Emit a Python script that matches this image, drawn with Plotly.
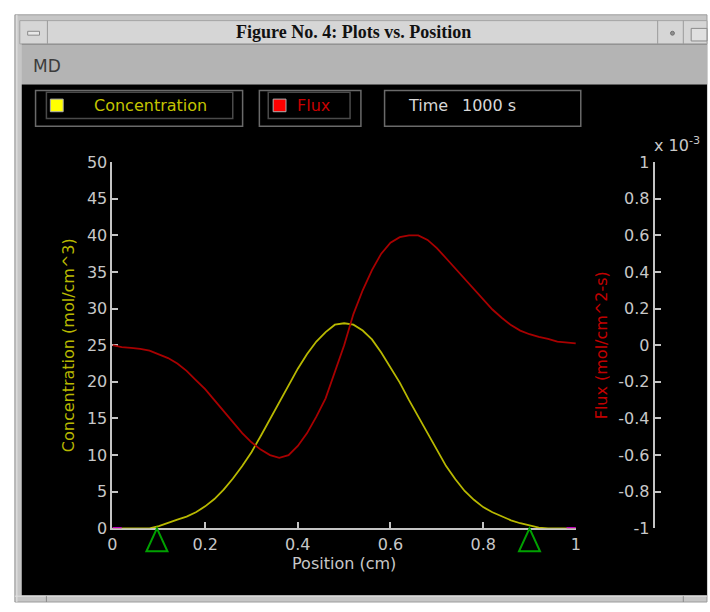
import plotly.graph_objects as go

# ---------------- data ----------------
position = [0.00, 0.02, 0.04, 0.06, 0.08, 0.10, 0.12, 0.14, 0.16, 0.18,
            0.20, 0.22, 0.24, 0.26, 0.28, 0.30, 0.32, 0.34, 0.36, 0.38,
            0.40, 0.42, 0.44, 0.46, 0.48, 0.50, 0.52, 0.54, 0.56, 0.58,
            0.60, 0.62, 0.64, 0.66, 0.68, 0.70, 0.72, 0.74, 0.76, 0.78,
            0.80, 0.82, 0.84, 0.86, 0.88, 0.90, 0.92, 0.94, 0.96, 0.98, 1.00]

concentration = [0, 0, 0, 0, 0, 0.3, 0.8, 1.2, 1.6, 2.2,
                 3.0, 4.0, 5.3, 6.8, 8.5, 10.4, 12.6, 14.9, 17.2, 19.6,
                 21.8, 23.8, 25.5, 26.8, 27.8, 28.0, 27.8, 27.0, 25.8, 24.0,
                 22.0, 19.9, 17.5, 15.2, 12.9, 10.6, 8.5, 6.7, 5.1, 3.9,
                 2.9, 2.2, 1.6, 1.1, 0.7, 0.4, 0.1, 0, 0, 0, 0]

# flux in units of 1e-3 mol/cm^2-s
flux_e3 = [0.00, -0.01, -0.015, -0.02, -0.03, -0.05, -0.07, -0.10, -0.14, -0.19,
           -0.24, -0.30, -0.36, -0.42, -0.48, -0.53, -0.57, -0.60, -0.615, -0.60,
           -0.55, -0.48, -0.39, -0.29, -0.15, 0.00, 0.17, 0.30, 0.41, 0.50,
           0.56, 0.59, 0.60, 0.60, 0.575, 0.53, 0.475, 0.42, 0.36, 0.305,
           0.25, 0.195, 0.15, 0.11, 0.08, 0.06, 0.045, 0.035, 0.02, 0.015, 0.01]

boundary_x = [0.0, 0.02, None, 0.98, 1.0]
boundary_y = [0, 0, None, 0, 0]
sensor_positions = [0.096, 0.90]

x_tickvals = [0, 0.2, 0.4, 0.6, 0.8, 1]
x_ticktext = ["0", "0.2", "0.4", "0.6", "0.8", "1"]
y_tickvals = [0, 5, 10, 15, 20, 25, 30, 35, 40, 45, 50]
y2_tickvals = [-1, -0.8, -0.6, -0.4, -0.2, 0, 0.2, 0.4, 0.6, 0.8, 1]
y2_ticktext = ["-1", "-0.8", "-0.6", "-0.4", "-0.2", "0", "0.2", "0.4", "0.6", "0.8", "1"]

title_text = "Figure No. 4: Plots vs. Position"
time_label = "1000 s"

# ---------------- helpers ----------------
W, H = 710, 612
def px(x):
    return x / W
def py(y):
    return 1 - y / H

AX = "#c4c4c4"
FONT = "DejaVu Sans"
YELLOW = "#b8b800"
RED = "#a80000"

shapes = []
def rect(x0, y0, x1, y1, fill=None, line=None, lw=1):
    shapes.append(dict(type="rect", xref="paper", yref="paper",
                       x0=px(x0), x1=px(x1), y0=py(y1), y1=py(y0),
                       fillcolor=fill if fill else "rgba(0,0,0,0)",
                       line=dict(color=line if line else "rgba(0,0,0,0)", width=lw if line else 0),
                       layer="below"))
def hline(x0, x1, y, color, lw=1):
    shapes.append(dict(type="line", xref="paper", yref="paper",
                       x0=px(x0), x1=px(x1), y0=py(y), y1=py(y),
                       line=dict(color=color, width=lw), layer="below"))
def vline(x, y0, y1, color, lw=1):
    shapes.append(dict(type="line", xref="paper", yref="paper",
                       x0=px(x), x1=px(x), y0=py(y0), y1=py(y1),
                       line=dict(color=color, width=lw), layer="below"))

# window chrome
rect(10, 6, 712, 612, fill="#c6c6c6", line="#9c9c9c")
vline(12, 6, 612, "#e6e6e6", 1)
rect(15, 12, 712, 36, fill="#d6d6d6", line="#a4a4a4")
vline(43, 12, 36, "#9a9a9a", 1)
rect(23, 23, 35, 27, fill="#e8e8e8", line="#8a8a8a")
vline(662, 12, 36, "#9a9a9a", 1)
vline(688, 12, 36, "#9a9a9a", 1)
shapes.append(dict(type="circle", xref="paper", yref="paper",
                   x0=px(675), x1=px(679), y0=py(27), y1=py(23),
                   fillcolor="#909090", line=dict(color="#707070", width=1), layer="below"))
rect(696, 20, 712, 33, fill="#e0e0e0", line="#8a8a8a")
rect(17, 36, 712, 78, fill="#b4b4b4")
hline(17, 712, 36.5, "#8e8e8e", 1)
rect(17, 78, 712, 605, fill="#000000")
hline(10, 712, 606, "#e2e2e2", 1)
vline(42, 606, 612, "#8a8a8a", 1)
vline(688, 606, 612, "#8a8a8a", 1)

# legend / info boxes
BOX = "#6a6a6a"
rect(31, 84, 241, 121, line=BOX, lw=1.5)
rect(42, 86, 231, 113, line="#4a4a4a", lw=1.5)
rect(46, 93, 59, 106, fill="#ffff00", line="#b0b0b0", lw=1)
rect(258, 84, 361, 121, line=BOX, lw=1.5)
rect(267, 86, 350, 113, line="#4a4a4a", lw=1.5)
rect(272, 93, 285, 106, fill="#ff0000", line="#b0b0b0", lw=1)
rect(385, 84, 584, 121, line=BOX, lw=1.5)

ydom = [py(536), py(158)]

# sensor triangles (green, just below the x axis)
for sx in sensor_positions:
    shapes.append(dict(type="path", xref="x", yref="paper",
                       xsizemode="pixel", ysizemode="pixel",
                       xanchor=sx, yanchor=ydom[0],
                       path="M0,0 L-10.5,-23 L10.5,-23 Z",
                       line=dict(color="#00a000", width=2),
                       fillcolor="rgba(0,0,0,0)", layer="above"))

annotations = [
    dict(text="<b>" + title_text + "</b>", x=px(353), y=py(24), xref="paper", yref="paper",
         showarrow=False, xanchor="center", yanchor="middle",
         font=dict(family="Liberation Serif", size=18, color="#111111")),
    dict(text="MD", x=px(26), y=py(59), xref="paper", yref="paper",
         showarrow=False, xanchor="left", yanchor="middle",
         font=dict(family=FONT, size=17, color="#3c3c3c")),
    dict(text="Concentration", x=px(148), y=py(100), xref="paper", yref="paper",
         showarrow=False, xanchor="center", yanchor="middle",
         font=dict(family=FONT, size=16, color="#c4c400")),
    dict(text="Flux", x=px(294), y=py(100), xref="paper", yref="paper",
         showarrow=False, xanchor="left", yanchor="middle",
         font=dict(family=FONT, size=16, color="#c80000")),
    dict(text="Time", x=px(407), y=py(100), xref="paper", yref="paper",
         showarrow=False, xanchor="left", yanchor="middle",
         font=dict(family=FONT, size=16, color="#d8d8d8")),
    dict(text=time_label, x=px(462), y=py(100), xref="paper", yref="paper",
         showarrow=False, xanchor="left", yanchor="middle",
         font=dict(family=FONT, size=16, color="#d8d8d8")),
    dict(text="x 10<sup>-3</sup>", x=px(656), y=py(153), xref="paper", yref="paper",
         showarrow=False, xanchor="left", yanchor="bottom",
         font=dict(family=FONT, size=16, color="#c8c8c8")),
]

fig = go.Figure()
fig.add_trace(go.Scatter(x=position, y=concentration, mode="lines",
                         line=dict(color=YELLOW, width=1.8), yaxis="y", hoverinfo="skip"))
fig.add_trace(go.Scatter(x=position, y=flux_e3, mode="lines",
                         line=dict(color=RED, width=1.8), yaxis="y2", hoverinfo="skip"))
fig.add_trace(go.Scatter(x=boundary_x, y=boundary_y, mode="lines",
                         line=dict(color="#c000c0", width=2.5), yaxis="y",
                         cliponaxis=False, hoverinfo="skip"))

fig.update_layout(
    width=W, height=H,
    margin=dict(l=0, r=0, t=0, b=0),
    paper_bgcolor="white",
    plot_bgcolor="rgba(0,0,0,0)",
    showlegend=False,
    font=dict(family=FONT, size=16, color="#c8c8c8"),
    shapes=shapes,
    annotations=annotations,
    xaxis=dict(domain=[px(109), px(579)], range=[0, 1], anchor="y",
               tickvals=x_tickvals, ticktext=x_ticktext,
               ticks="inside", ticklen=6, tickwidth=2, tickcolor=AX,
               showline=True, linecolor=AX, linewidth=2,
               showgrid=False, zeroline=False, layer="below traces",
               tickfont=dict(family=FONT, size=16, color="#c8c8c8"),
               title=dict(text="Position (cm)", standoff=0,
                          font=dict(family=FONT, size=16, color="#c8c8c8"))),
    yaxis=dict(domain=ydom, range=[0, 50], anchor="x",
               tickvals=y_tickvals,
               ticks="inside", ticklen=6, tickwidth=2, tickcolor=AX,
               showline=True, linecolor=AX, linewidth=2,
               showgrid=False, zeroline=False, layer="below traces",
               tickfont=dict(family=FONT, size=16, color="#c8c8c8"),
               title=dict(text="Concentration (mol/cm^3)", standoff=8,
                          font=dict(family=FONT, size=16, color=YELLOW))),
    yaxis2=dict(overlaying="y", anchor="free", position=px(658), side="left",
                range=[-1, 1], tickvals=y2_tickvals, ticktext=y2_ticktext,
                ticks="inside", ticklen=6, tickwidth=2, tickcolor=AX,
                showline=True, linecolor=AX, linewidth=2,
                showgrid=False, zeroline=False, layer="below traces",
                tickfont=dict(family=FONT, size=16, color="#c8c8c8"),
                title=dict(text="Flux (mol/cm^2-s)", standoff=6,
                           font=dict(family=FONT, size=16, color="#c00000"))),
)

fig.write_html("out.html",
               post_script="document.body.style.margin='0';document.body.style.overflow='hidden';")
